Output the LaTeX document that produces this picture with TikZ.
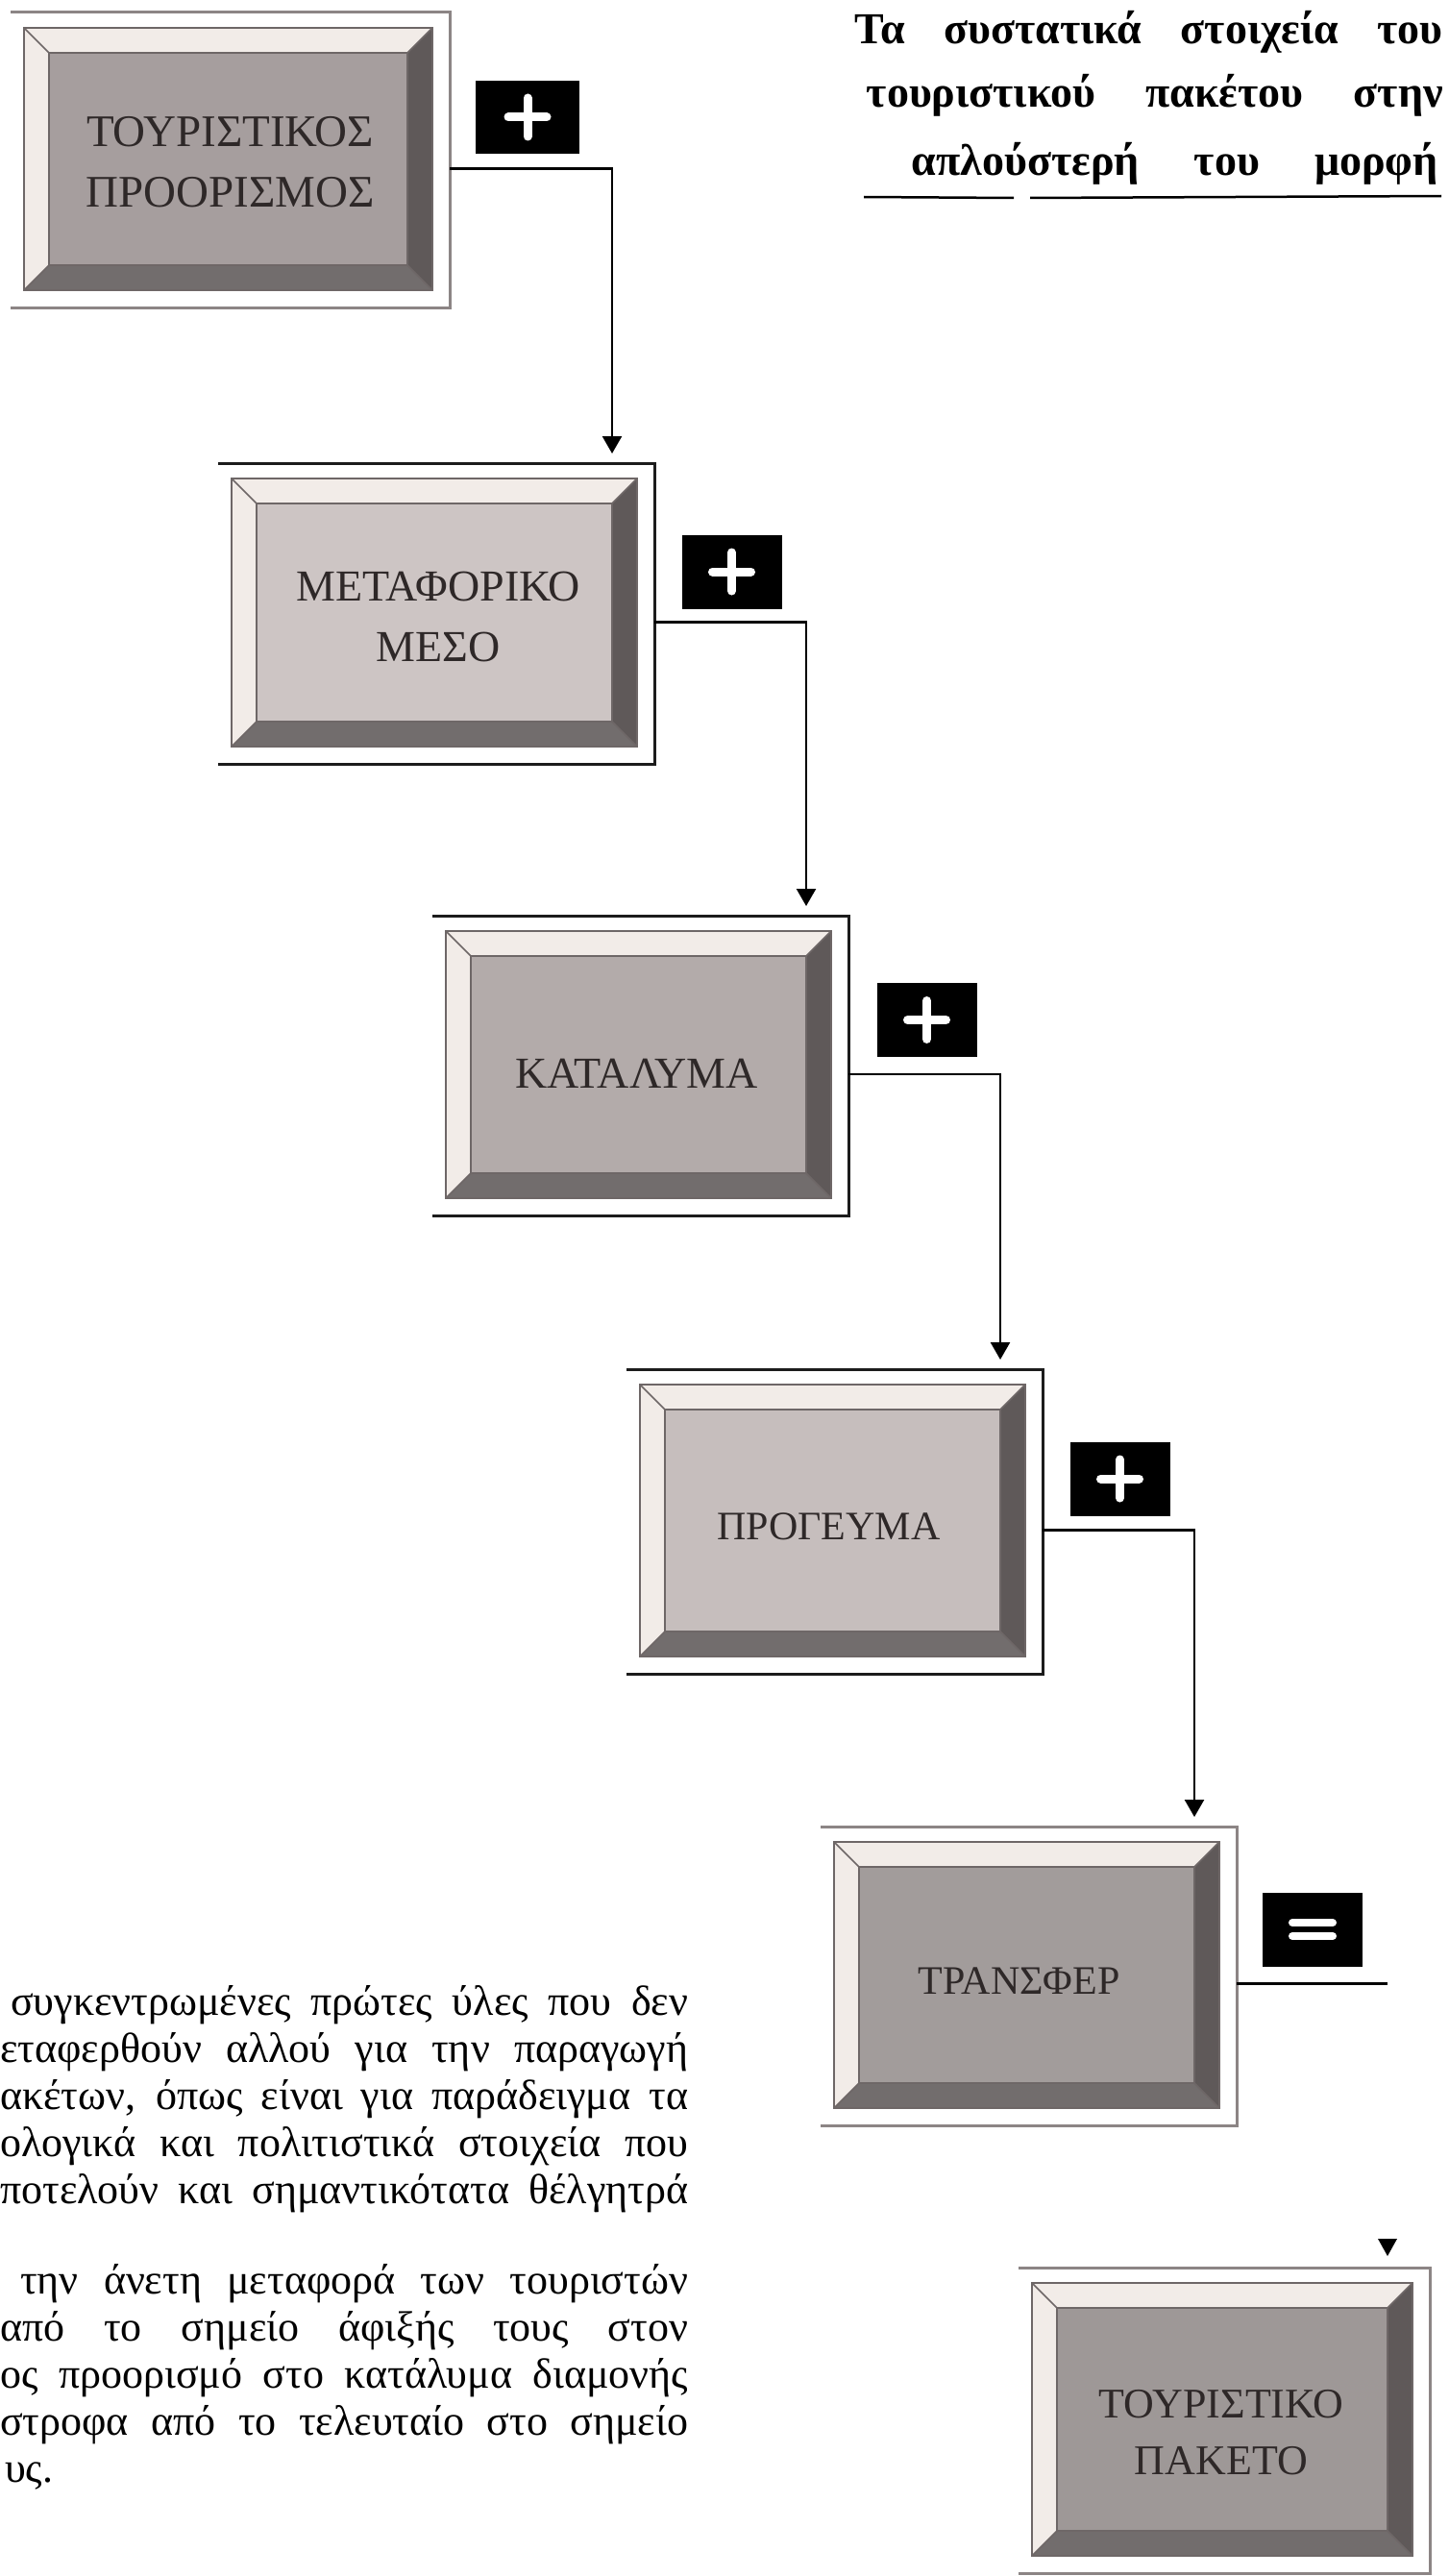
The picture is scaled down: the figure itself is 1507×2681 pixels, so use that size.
\documentclass[tikz,border=0pt]{standalone}
\usepackage{fontspec}
\setmainfont{Liberation Serif}
\usetikzlibrary{arrows.meta,calc}

\definecolor{lite}{HTML}{F2ECE8}
\definecolor{darkbev}{HTML}{5F5959}
\definecolor{edgec}{HTML}{6E6767}
\definecolor{inkc}{HTML}{2E2828}
\definecolor{frgray}{HTML}{8C8585}
\definecolor{frblack}{HTML}{1C1C1C}
\definecolor{pA}{HTML}{A69E9E}
\definecolor{pB}{HTML}{CDC5C4}
\definecolor{pC}{HTML}{B3ABAA}
\definecolor{pD}{HTML}{C6BEBD}
\definecolor{pE}{HTML}{A29C9B}
\definecolor{pF}{HTML}{9E9897}

\tikzset{
  frame/.style={draw=none, inner sep=0pt, outer sep=0pt},
  lbl/.style={inner sep=0pt, align=center, text=inkc,
    font=\fontsize{46}{63}\selectfont},
  opbox/.style={fill=black, draw=none, inner sep=0pt,
    minimum width=104pt, minimum height=77pt},
  opmark/.style={white, line width=9pt, line cap=round},
  conn/.style={black, line width=2.5pt,
    -{Triangle[width=20pt,length=18pt]}},
  plain/.style={black, line width=2.5pt},
  ttl/.style={inner sep=0pt, font=\fontsize{46}{60}\selectfont\bfseries},
  body/.style={inner sep=0pt, anchor=base west, font=\fontsize{44}{49}\selectfont},
}

\newcommand\drawbevel[3]{%
  \coordinate (#1a) at ($(#1.north west)+(14,16)$);
  \coordinate (#1b) at ($(#1.south east)+(-18,-18)$);
  \coordinate (#1c) at ($(#1a)+(26,26)$);
  \coordinate (#1d) at ($(#1b)+(-26,-26)$);
  \fill[lite] (#1a) rectangle (#1b);
  \fill[darkbev] (#1a -| #1b) -- (#1b) -- (#1d) -- (#1c -| #1d) -- cycle;
  \fill[darkbev!88] (#1a |- #1b) -- (#1b) -- (#1d) -- (#1c |- #1d) -- cycle;
  \fill[#2] (#1c) rectangle (#1d);
  \draw[edgec, line width=2pt] (#1a) rectangle (#1b);
  \draw[edgec, line width=2pt] (#1c) rectangle (#1d);
  \draw[edgec, line width=1.5pt] (#1a) -- (#1c) (#1a -| #1b) -- (#1c -| #1d)
      (#1b) -- (#1d) (#1a |- #1b) -- (#1c |- #1d);
  \draw[#3, line width=3pt] (#1.north west) -- (#1.north east)
      -- (#1.south east) -- (#1.south west);
}

\begin{document}
\begin{tikzpicture}[x=1pt, y=-1pt]
\useasboundingbox[fill=white] (0,0) rectangle (1507,2681);

% title
\node[ttl, anchor=base east] (h1) at (1502,46)
  {\makebox[612pt][s]{Τα συστατικά στοιχεία του}};
\node[ttl, anchor=base east] (h2) at (1502,112)
  {\makebox[600pt][s]{τουριστικού πακέτου στην}};
\node[ttl, anchor=base east] (h3) at (1497,183)
  {\makebox[548pt][s]{απλούστερή του μορφή}};
\draw[line width=2.5pt] (899,205) -- (1055,206);
\draw[line width=2.5pt] (1072,206) -- (1500,204);

% boxes (outer frames)
\node[frame, minimum width=457pt, minimum height=307pt] (b1) at (239.5,166.5) {};
\node[frame, minimum width=454pt, minimum height=313pt] (b2) at (454,638.5) {};
\node[frame, minimum width=433pt, minimum height=312pt] (b3) at (666.5,1109) {};
\node[frame, minimum width=433pt, minimum height=317pt] (b4) at (868.5,1583.5) {};
\node[frame, minimum width=433pt, minimum height=311pt] (b5) at (1070.5,2056.5) {};
\node[frame, minimum width=428pt, minimum height=318pt] (b6) at (1274,2519) {};

\drawbevel{b1}{pA}{frgray}
\drawbevel{b2}{pB}{frblack}
\drawbevel{b3}{pC}{frblack}
\drawbevel{b4}{pD}{frblack}
\drawbevel{b5}{pE}{frgray}
\drawbevel{b6}{pF}{frgray}

% labels
\node[lbl, font=\fontsize{47}{63}\selectfont] (t1) at ($(b1)+(0,2)$) {ΤΟΥΡΙΣΤΙΚΟΣ\\ΠΡΟΟΡΙΣΜΟΣ};
\node[lbl] (t2) at ($(b2)+(2,3)$) {ΜΕΤΑΦΟΡΙΚΟ\\ΜΕΣΟ};
\node[lbl] (t3) at ($(b3)+(-4,8)$) {ΚΑΤΑΛΥΜΑ};
\node[lbl, font=\fontsize{42}{60}\selectfont] (t4) at ($(b4)+(-6,5)$) {ΠΡΟΓΕΥΜΑ};
\node[lbl, font=\fontsize{42}{60}\selectfont] (t5) at ($(b5)+(-10,5)$) {ΤΡΑΝΣΦΕΡ};
\node[lbl, font=\fontsize{44}{59}\selectfont] (t6) at ($(b6)+(-3,13)$) {ΤΟΥΡΙΣΤΙΚΟ\\ΠΑΚΕΤΟ};

% operator boxes
\node[opbox, minimum width=108pt, minimum height=76pt] (p1) at (549,122) {};
\node[opbox] (p2) at (761.5,595) {};
\node[opbox] (p3) at (964.5,1061.5) {};
\node[opbox] (p4) at (1165.5,1539) {};
\node[opbox] (e5) at (1366,2008) {};
\foreach \p in {p1,p2,p3,p4}{
  \draw[opmark] ($(\p)+(-20,0)$) -- ($(\p)+(20,0)$)
                ($(\p)+(0,-20)$) -- ($(\p)+(0,20)$);
}
\draw[white, line width=8pt, line cap=round]
  ($(e5)+(-21,-7)$) -- ($(e5)+(21,-7)$)
  ($(e5)+(-21,7)$) -- ($(e5)+(21,7)$);

% connectors
\draw[conn] ($(b1.east)+(0,9)$) -| ($(b2.north east)+(-44,-10)$);
\draw[conn] ($(b2.east)+(0,9)$) -| ($(b3.north east)+(-44,-10)$);
\draw[conn] ($(b3.east)+(0,9)$) -| ($(b4.north east)+(-44,-10)$);
\draw[conn] ($(b4.east)+(0,9)$) -| ($(b5.north east)+(-44,-10)$);
\coordinate (c5) at ($(b5.east)+(157,8)$);
\draw[plain] ($(b5.east)+(0,8)$) -- (c5);
\coordinate (a6) at ($(b6.north east)+(-44,-12)$);
\fill (a6) -- ++(-10,-18) -- ++(20,0) -- cycle;

% body text
\node[body] (l1) at (11,2097) {\makebox[705pt][s]{συγκεντρωμένες πρώτες ύλες που δεν}};
\node[body] (l2) at (0,2146) {\makebox[716pt][s]{εταφερθούν αλλού για την παραγωγή}};
\node[body] (l3) at (0,2195) {\makebox[716pt][s]{ακέτων, όπως είναι για παράδειγμα τα}};
\node[body] (l4) at (0,2244) {\makebox[716pt][s]{ολογικά και πολιτιστικά στοιχεία που}};
\node[body] (l5) at (0,2293) {\makebox[716pt][s]{ποτελούν και σημαντικότατα θέλγητρά}};
\node[body] (l6) at (21,2387) {\makebox[695pt][s]{την άνετη μεταφορά των τουριστών}};
\node[body] (l7) at (0,2436) {\makebox[716pt][s]{από το σημείο άφιξής τους στον}};
\node[body] (l8) at (0,2485) {\makebox[716pt][s]{ος προορισμό στο κατάλυμα διαμονής}};
\node[body] (l9) at (0,2534) {\makebox[716pt][s]{στροφα από το τελευταίο στο σημείο}};
\node[body] (l10) at (5,2583) {υς.};
\end{tikzpicture}
\end{document}
